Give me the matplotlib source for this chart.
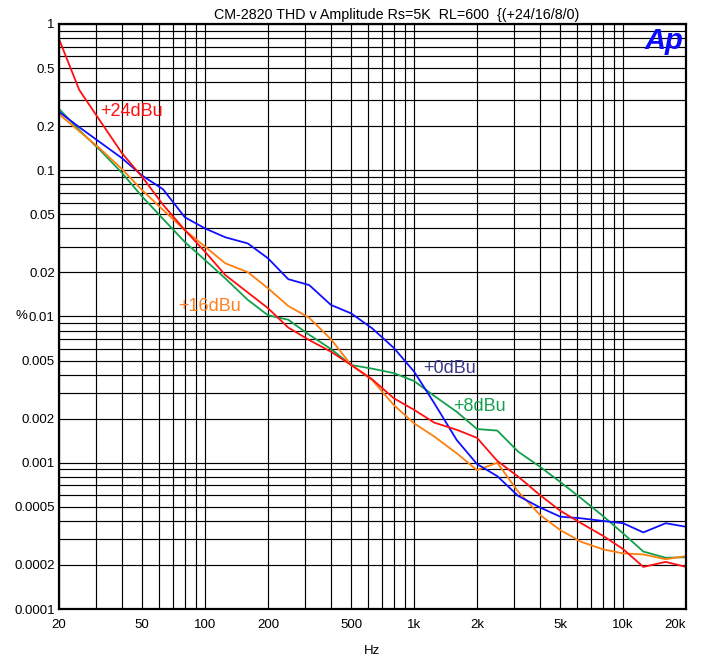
import matplotlib
matplotlib.use("Agg")
import matplotlib.pyplot as plt
from matplotlib.ticker import FixedLocator, FixedFormatter, NullFormatter

plt.rcParams['font.family'] = ['Liberation Sans', 'DejaVu Sans']

freq = [20, 25, 31.5, 40, 50, 63, 80, 100, 125, 160, 200, 250, 315, 400, 500, 630,
        800, 1000, 1250, 1600, 2000, 2500, 3150, 4000, 5000, 6300, 8000, 10000,
        12500, 16000, 20000]

thd_24 = [0.79, 0.354, 0.217, 0.131, 0.090, 0.058, 0.039, 0.0277, 0.0192, 0.0146,
          0.0114, 0.0084, 0.0069, 0.00575, 0.00466, 0.00372, 0.00276, 0.0023,
          0.00188, 0.00168, 0.00148, 0.00103, 0.000803, 0.000602, 0.00047,
          0.000386, 0.000317, 0.000257, 0.000194, 0.00021, 0.000194]

thd_16 = [0.242, 0.185, 0.14, 0.102, 0.073, 0.0535, 0.039, 0.030, 0.0231, 0.0201,
          0.0156, 0.0118, 0.0098, 0.0070, 0.00466, 0.00368, 0.00248, 0.00186,
          0.00151, 0.00116, 0.00089, 0.0010, 0.000634, 0.00044, 0.000347,
          0.000288, 0.000256, 0.00024, 0.000236, 0.000219, 0.00023]

thd_8 = [0.263, 0.188, 0.137, 0.096, 0.066, 0.0464, 0.0323, 0.0243, 0.0182, 0.0130,
         0.0102, 0.0095, 0.0075, 0.0060, 0.00466, 0.0044, 0.0041, 0.00362,
         0.00286, 0.00223, 0.0017, 0.00166, 0.00119, 0.00094, 0.00074,
         0.000571, 0.000433, 0.000329, 0.000247, 0.000224, 0.000226]

thd_0 = [0.251, 0.197, 0.155, 0.121, 0.092, 0.074, 0.0477, 0.040, 0.0348, 0.0316,
         0.025, 0.018, 0.0164, 0.012, 0.0105, 0.0083, 0.0061, 0.0042, 0.00255,
         0.00143, 0.00098, 0.00081, 0.000593, 0.000495, 0.000428, 0.000417,
         0.0004, 0.000386, 0.000334, 0.000386, 0.000365]

x_major = [20, 50, 100, 200, 500, 1000, 2000, 5000, 10000, 20000]
x_labels = ['20', '50', '100', '200', '500', '1k', '2k', '5k', '10k', '20k']
x_minor = [30, 40, 60, 70, 80, 90, 300, 400, 600, 700, 800, 900,
           3000, 4000, 6000, 7000, 8000, 9000]

y_major = [1, 0.5, 0.2, 0.1, 0.05, 0.02, 0.01, 0.005, 0.002, 0.001, 0.0005, 0.0002, 0.0001]
y_labels = ['1', '0.5', '0.2', '0.1', '0.05', '0.02', '0.01', '0.005', '0.002',
            '0.001', '0.0005', '0.0002', '0.0001']
y_minor = [m * 10.0 ** e for e in range(-4, 0) for m in (3, 4, 6, 7, 8, 9)]

title = "CM-2820 THD v Amplitude Rs=5K  RL=600  {(+24/16/8/0)"

fig = plt.figure(figsize=(7.05, 6.58), dpi=100)
ax = fig.add_axes([59/705, 1-609/658, (686-59)/705, (609-24)/658])
ax.set_xscale('log')
ax.set_yscale('log')
ax.set_xlim(20, 20000)
ax.set_ylim(0.0001, 1)

ax.xaxis.set_major_locator(FixedLocator(x_major))
ax.xaxis.set_major_formatter(FixedFormatter(x_labels))
ax.xaxis.set_minor_locator(FixedLocator(x_minor))
ax.xaxis.set_minor_formatter(NullFormatter())
ax.yaxis.set_major_locator(FixedLocator(y_major))
ax.yaxis.set_major_formatter(FixedFormatter(y_labels))
ax.yaxis.set_minor_locator(FixedLocator(y_minor))
ax.yaxis.set_minor_formatter(NullFormatter())

ax.grid(True, which='both', color='black', linewidth=0.85)
ax.set_axisbelow(True)
ax.tick_params(which='both', length=0, labelsize=9.5)
ax.tick_params(axis='x', pad=7)
ax.tick_params(axis='y', pad=3)
for s in ax.spines.values():
    s.set_linewidth(1.6)
    s.set_color('black')

ax.plot(freq, thd_8, color='#12a04a', lw=1.3)
ax.plot(freq, thd_16, color='#ff7f0e', lw=1.3)
ax.plot(freq, thd_0, color='#1010ff', lw=1.3)
ax.plot(freq, thd_24, color='#ff1010', lw=1.3)

ax.text(31.5, 0.252, '+24dBu', color='#ff1010', fontsize=13, va='center', ha='left')
ax.text(74, 0.0117, '+16dBu', color='#ff8020', fontsize=13, va='center', ha='left')
ax.text(1100, 0.0044, '+0dBu', color='#3a3a8c', fontsize=13, va='center', ha='left')
ax.text(1530, 0.00243, '+8dBu', color='#14a050', fontsize=13, va='center', ha='left')

ax.text(0.995, 0.995, 'Ap', transform=ax.transAxes, color='#0a0aff', fontsize=21,
        fontweight='bold', style='italic', ha='right', va='top')

labels = ax.get_xticklabels()
labels[-1].set_ha('right')

ax.set_xlabel('Hz', fontsize=9.5)
ax.xaxis.set_label_coords((372-59)/627, (609-645)/585)
ax.set_ylabel('%', fontsize=9.5, rotation=0, va='center', ha='center')
ax.yaxis.set_label_coords((21-59)/627, 0.5)
fig.text(397/705, 1-15/658, title, fontsize=10.3, ha='center', va='center')

fig.savefig('out.png', dpi=100)
